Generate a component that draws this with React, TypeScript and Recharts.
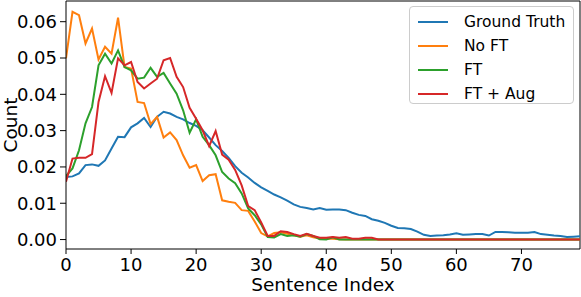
import { Legend, Line, LineChart, ReferenceLine, XAxis, YAxis } from 'recharts';

const indices = Array.from({ length: 80 }, (_, i) => i);

const groundTruth = [
  0.0172, 0.0174, 0.0182, 0.0205, 0.0207, 0.0203, 0.0218, 0.0251, 0.0283, 0.0282,
  0.0309, 0.032, 0.0335, 0.031, 0.0338, 0.0352, 0.0347, 0.0338, 0.0331, 0.0321,
  0.0313, 0.0301, 0.0281, 0.026, 0.0244, 0.0225, 0.0202, 0.0184, 0.0171, 0.0156,
  0.0144, 0.0134, 0.0124, 0.0116, 0.0107, 0.0097, 0.009, 0.0087, 0.0083, 0.0087,
  0.0082, 0.0083, 0.0083, 0.0081, 0.0074, 0.0068, 0.0065, 0.0056, 0.0052, 0.0046,
  0.0038, 0.0032, 0.0031, 0.0029, 0.0022, 0.0013, 0.001, 0.0011, 0.0012, 0.0014,
  0.0017, 0.0013, 0.0014, 0.0015, 0.0015, 0.0011, 0.0021, 0.0021, 0.002, 0.0019,
  0.0019, 0.0019, 0.0021, 0.0015, 0.0013, 0.0011, 0.001, 0.0007, 0.0008, 0.0009,
];

const noFt = [
  0.0499, 0.0627, 0.0618, 0.054, 0.0581, 0.0496, 0.0531, 0.0512, 0.0611, 0.0475,
  0.0471, 0.0379, 0.0376, 0.0318, 0.0338, 0.0281, 0.0295, 0.0274, 0.0232, 0.0198,
  0.0205, 0.0161, 0.0177, 0.018, 0.0108, 0.0104, 0.0101, 0.0081, 0.0079, 0.005,
  0.0018, 0.0009, 0.0018, 0.002, 0.0016, 0.0012, 0.0008, 0.0012, 0.0006, 0.0003,
  0.0002, 0.0002, 0.0001, 0, 0, 0, 0, 0, 0, 0,
  0, 0, 0, 0, 0, 0, 0, 0, 0, 0,
  0, 0, 0, 0, 0, 0, 0, 0, 0, 0,
  0, 0, 0, 0, 0, 0, 0, 0, 0, 0,
];

const ft = [
  0.0175, 0.0196, 0.0246, 0.032, 0.0365, 0.048, 0.0512, 0.0485, 0.0521, 0.0475,
  0.0466, 0.0443, 0.0446, 0.0473, 0.0448, 0.0459, 0.043, 0.0402, 0.0356, 0.0294,
  0.0331, 0.0283, 0.026, 0.0232, 0.0186, 0.0168, 0.0155, 0.0127, 0.0086, 0.0067,
  0.0042, 0.0007, 0.0006, 0.0015, 0.001, 0.0012, 0.0008, 0.0015, 0.001, 0.0001,
  0, 0.0006, 0, 0, 0, 0, 0, 0, 0, 0,
  0, 0, 0, 0, 0, 0, 0, 0, 0, 0,
  0, 0, 0, 0, 0, 0, 0, 0, 0, 0,
  0, 0, 0, 0, 0, 0, 0, 0, 0, 0,
];

const ftAug = [
  0.0159, 0.0223, 0.0225, 0.0225, 0.0235, 0.0379, 0.045, 0.0404, 0.0499, 0.048,
  0.0489, 0.0434, 0.0416, 0.043, 0.0443, 0.0494, 0.05, 0.0448, 0.042, 0.0363,
  0.0333, 0.0301, 0.0257, 0.0299, 0.0234, 0.022, 0.0192, 0.0149, 0.0092, 0.0081,
  0.0047, 0.001, 0.001, 0.0023, 0.0021, 0.0015, 0.001, 0.0016, 0.001, 0.0005,
  0.0005, 0.0007, 0.0005, 0.0007, 0.0002, 0.0002, 0.0005, 0.0005, 0, 0,
  0, 0, 0, 0, 0, 0, 0, 0, 0, 0,
  0, 0, 0, 0, 0, 0, 0, 0, 0, 0,
  0, 0, 0, 0, 0, 0, 0, 0, 0, 0,
];

const xTicks = [0, 10, 20, 30, 40, 50, 60, 70];
const yTicks = [0, 0.01, 0.02, 0.03, 0.04, 0.05, 0.06];
const X_MAX = 79;
const Y_MIN = -0.0026;
const Y_MAX = 0.0657;

const series = [
  { key: 'groundTruth', name: 'Ground Truth', color: '#1f77b4' },
  { key: 'noFt', name: 'No FT', color: '#ff7f0e' },
  { key: 'ft', name: 'FT', color: '#2ca02c' },
  { key: 'ftAug', name: 'FT + Aug', color: '#d62728' },
];

const data = indices.map((i) => ({
  i,
  groundTruth: groundTruth[i],
  noFt: noFt[i],
  ft: ft[i],
  ftAug: ftAug[i],
}));

const FONT = 'DejaVu Sans, sans-serif';

const LegendBox = () => (
  <div
    style={{
      width: 165,
      height: 98,
      border: '1px solid #cccccc',
      borderRadius: 4,
      background: 'rgba(255,255,255,0.8)',
      boxSizing: 'border-box',
      paddingTop: 3,
      fontFamily: FONT,
      fontSize: 15.5,
      color: '#000',
    }}
  >
    {series.map((s) => (
      <div key={s.key} style={{ display: 'flex', alignItems: 'center', height: 24 }}>
        <svg width={54} height={10} style={{ flex: 'none' }}>
          <line x1={8} x2={38} y1={5} y2={5} stroke={s.color} strokeWidth={2} />
        </svg>
        <span>{s.name}</span>
      </div>
    ))}
  </div>
);

export default function App() {
  return (
    <div style={{ position: 'absolute', left: 0, top: 0, background: '#fff' }}>
      <LineChart
        width={581}
        height={297}
        data={data}
        margin={{ top: 1, right: 1, left: 0, bottom: 0 }}
        style={{ fontFamily: FONT }}
      >
        <XAxis
          dataKey="i"
          type="number"
          domain={[0, X_MAX]}
          ticks={xTicks}
          allowDataOverflow
          height={48}
          tickSize={5}
          tickMargin={4}
          stroke="#000"
          tick={{ fill: '#000', fontSize: 18 }}
          label={{ value: 'Sentence Index', position: 'insideBottom', offset: 6, fill: '#000', fontSize: 18.5 }}
        />
        <YAxis
          type="number"
          domain={[Y_MIN, Y_MAX]}
          ticks={yTicks}
          allowDataOverflow
          width={66}
          tickSize={6}
          tickMargin={3}
          stroke="#000"
          tickFormatter={(v: number) => v.toFixed(2)}
          tick={{ fill: '#000', fontSize: 18 }}
          label={{
            value: 'Count',
            angle: -90,
            position: 'insideLeft',
            offset: 10,
            fill: '#000',
            fontSize: 18.5,
            style: { textAnchor: 'middle' },
          }}
        />
        <ReferenceLine y={Y_MAX} stroke="#000" strokeWidth={1} ifOverflow="visible" />
        <ReferenceLine x={X_MAX} stroke="#000" strokeWidth={1} ifOverflow="visible" />
        {series.map((s) => (
          <Line
            key={s.key}
            type="linear"
            dataKey={s.key}
            name={s.name}
            stroke={s.color}
            strokeWidth={2}
            dot={false}
            activeDot={false}
            isAnimationActive={false}
          />
        ))}
        <Legend
          layout="horizontal"
          verticalAlign="middle"
          align="center"
          content={<LegendBox />}
          wrapperStyle={{ position: 'absolute', left: 409, top: 6, width: 165 }}
        />
      </LineChart>
    </div>
  );
}
